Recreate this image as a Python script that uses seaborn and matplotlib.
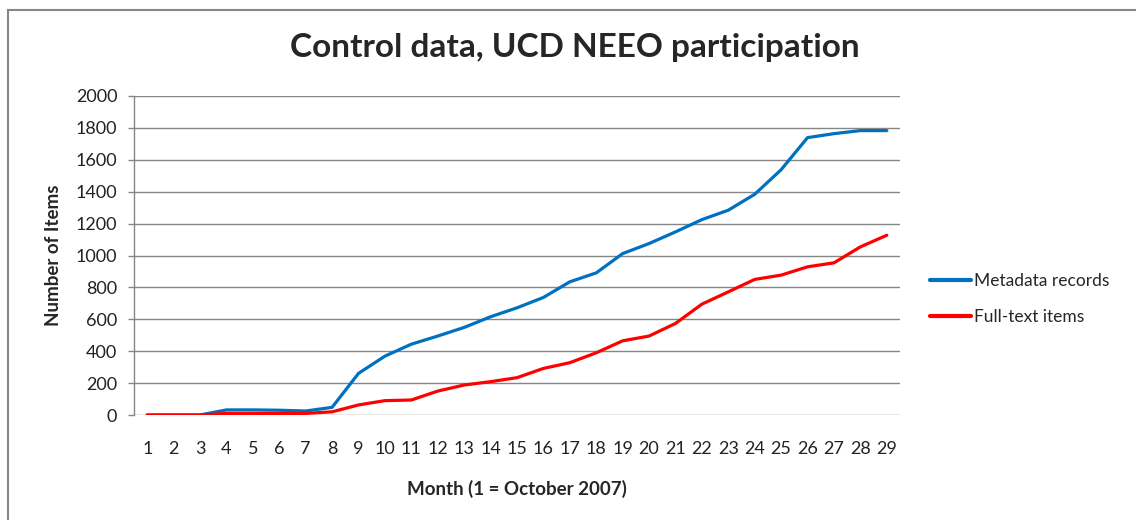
import matplotlib
matplotlib.use("Agg")
import matplotlib.pyplot as plt
import seaborn as sns
import pandas as pd
from matplotlib.patches import Rectangle

months = list(range(1, 30))
metadata_records = [0, 0, 0, 32, 32, 30, 25, 48, 261, 369, 444, 495, 549, 616, 672,
                    737, 835, 891, 1012, 1075, 1148, 1225, 1284, 1384, 1538, 1739, 1764, 1783, 1783]
fulltext_items = [0, 0, 0, 10, 10, 10, 10, 20, 63, 90, 94, 150, 188, 209, 234,
                  292, 328, 390, 465, 495, 574, 695, 772, 850, 877, 929, 954, 1054, 1127]
series_names = ["Metadata records", "Full-text items"]
y_ticks = list(range(0, 2001, 200))

df = pd.DataFrame({
    "Month": months * 2,
    "Items": metadata_records + fulltext_items,
    "Series": [series_names[0]] * len(months) + [series_names[1]] * len(months),
})

sns.set_theme(style="white")
plt.rcParams["font.family"] = ["Lato", "DejaVu Sans"]

fig = plt.figure(figsize=(11.36, 5.2), dpi=100)
ax = fig.add_axes([134 / 1136, 1 - 415 / 520, (900 - 134) / 1136, (415 - 96) / 520])

sns.lineplot(data=df, x="Month", y="Items", hue="Series", ax=ax,
             palette={series_names[0]: "#0070C0", series_names[1]: "#FF0000"},
             linewidth=2.3, legend=True)

ax.set_xlim(0.5, 29.5)
ax.set_ylim(0, 2000)
ax.set_xticks(months)
ax.set_xticklabels([str(m) for m in months])
ax.set_yticks(y_ticks)
ax.set_yticklabels([str(v) for v in y_ticks])
ax.grid(axis="y", color="#868686", linewidth=1.0)
ax.set_axisbelow(True)
for s in ["top", "right", "bottom"]:
    ax.spines[s].set_visible(False)
ax.spines["left"].set_color("#868686")
ax.spines["left"].set_linewidth(1.0)
ax.tick_params(axis="y", left=True, length=4, width=1.0, color="#868686",
               labelsize=13, labelcolor="#222222", pad=8)
ax.tick_params(axis="x", bottom=False, labelsize=13, labelcolor="#222222", pad=13)

ax.set_xlabel("Month (1 = October 2007)", fontsize=13.5, fontweight="bold", labelpad=16)
ax.set_ylabel("Number of Items", fontsize=13.5, fontweight="bold", labelpad=10)

fig.suptitle("Control data, UCD NEEO participation", x=575 / 1136, y=1 - 48 / 520,
             va="center", fontsize=24, fontweight="bold")

leg = ax.legend(loc="center left", bbox_to_anchor=(914 / 1136, 1 - 299 / 520),
                bbox_transform=fig.transFigure, frameon=False, fontsize=12.5,
                handlelength=2.4, handletextpad=0.15, labelspacing=1.15)
for line in leg.get_lines():
    line.set_linewidth(3)

fig.patches.append(Rectangle((8 / 1136, -0.1), 1.2, 1 - 10 / 520 + 0.1,
                             transform=fig.transFigure, fill=False,
                             edgecolor="#868686", linewidth=1.5, figure=fig))

fig.savefig("out.png", dpi=100)
